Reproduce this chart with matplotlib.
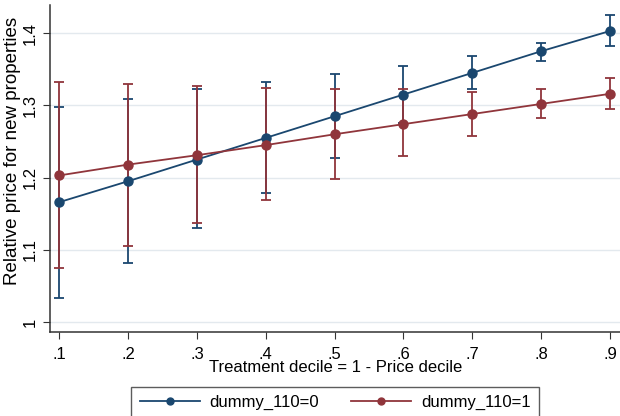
import matplotlib
matplotlib.use("Agg")
import matplotlib.pyplot as plt

plt.rcParams["font.family"] = ["Liberation Sans", "DejaVu Sans"]

decile = [0.1, 0.2, 0.3, 0.4, 0.5, 0.6, 0.7, 0.8, 0.9]

# dummy_110=0
blue_mean = [1.166, 1.195, 1.225, 1.255, 1.285, 1.315, 1.345, 1.375, 1.403]
blue_lo = [1.033, 1.082, 1.130, 1.178, 1.227, 1.275, 1.322, 1.361, 1.382]
blue_hi = [1.298, 1.309, 1.322, 1.333, 1.343, 1.355, 1.368, 1.386, 1.425]

# dummy_110=1
red_mean = [1.203, 1.218, 1.231, 1.245, 1.260, 1.274, 1.288, 1.302, 1.316]
red_lo = [1.075, 1.105, 1.137, 1.169, 1.198, 1.230, 1.258, 1.283, 1.295]
red_hi = [1.333, 1.330, 1.327, 1.324, 1.322, 1.322, 1.318, 1.322, 1.338]

y_ticks = [1.0, 1.1, 1.2, 1.3, 1.4]
y_labels = ["1", "1.1", "1.2", "1.3", "1.4"]
x_labels = [".1", ".2", ".3", ".4", ".5", ".6", ".7", ".8", ".9"]

NAVY = "#1a476f"
MAROON = "#90353b"
W, H = 620, 416

fig = plt.figure(figsize=(6.2, 4.16), dpi=100)
ax = fig.add_axes([50 / W, 1 - 331.7 / H, 570 / W, (331.7 - 5) / H])

for mean, lo, hi, col in [(blue_mean, blue_lo, blue_hi, NAVY),
                          (red_mean, red_lo, red_hi, MAROON)]:
    err = [[m - l for m, l in zip(mean, lo)], [h - m for m, h in zip(mean, hi)]]
    ax.errorbar(decile, mean, yerr=err, fmt="none", ecolor=col,
                elinewidth=1.3, capsize=3.8, capthick=1.3, zorder=2)

ax.plot(decile, blue_mean, "-o", color=NAVY, lw=1.3, ms=6.5, zorder=3)
ax.plot(decile, red_mean, "-o", color=MAROON, lw=1.3, ms=6.5, zorder=3)

ax.set_xlim(0.0865, 0.9145)
ax.set_ylim(0.9866, 1.439)
ax.set_xticks(decile)
ax.set_xticklabels(x_labels, fontsize=12)
ax.set_yticks(y_ticks)
ax.set_yticklabels(y_labels, fontsize=12, rotation=90, va="center")
ax.grid(axis="y", color="#e3e9ee", lw=1)
ax.set_axisbelow(True)
ax.spines["top"].set_visible(False)
ax.spines["right"].set_visible(False)
for s in ("left", "bottom"):
    ax.spines[s].set_color("#333333")
    ax.spines[s].set_linewidth(1.1)
ax.tick_params(direction="out", length=5, color="#333333")
ax.tick_params(axis="x", pad=6)
ax.tick_params(axis="y", pad=4)

# axis titles placed like the Stata original (y title sits a bit above centre)
fig.text(335.5 / W, 1 - 368 / H, "Treatment decile = 1 - Price decile",
         fontsize=12, ha="center", va="center")
fig.text(13 / W, 1 - 151 / H, "Relative price for new properties",
         fontsize=13.5, rotation=90, ha="center", va="center")

leg_handles = [
    plt.Line2D([], [], color=NAVY, lw=1.3, marker="o", ms=5),
    plt.Line2D([], [], color=MAROON, lw=1.3, marker="o", ms=5),
]
fig.legend(leg_handles, ["dummy_110=0", "dummy_110=1"], ncol=2,
           loc="upper center", bbox_to_anchor=(335 / W, 1 - 386.7 / H),
           frameon=True, fancybox=False, edgecolor="#333333", fontsize=12,
           handlelength=3.6, handletextpad=0.6, columnspacing=1.9,
           borderpad=0.5, borderaxespad=0)

fig.savefig("out.png", dpi=100)
